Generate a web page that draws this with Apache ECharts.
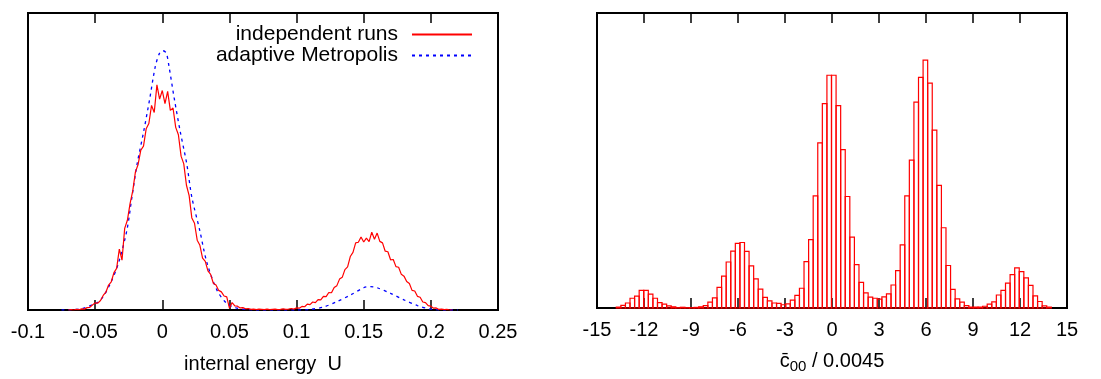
<!DOCTYPE html>
<html>
<head>
<meta charset="utf-8">
<script src="https://cdn.jsdelivr.net/npm/echarts@6/dist/echarts.min.js"></script>
<style>
html,body{margin:0;padding:0;background:#fff;}
#chart{width:1101px;height:379px;}
</style>
</head>
<body>
<div id="chart"></div>
<script>
// ---------- Left panel data ----------
const leftTicks = { min: -0.1, max: 0.25, interval: 0.05 };
// independent runs (red, noisy), sampled on a regular grid of U
const redStart = -0.07;
const redStep = 0.002;
const redP = [
  0, 0.1, 0, 0.2, 0.1, 0.4, 0.3, 0.8, 0.9, 1.7,
  2.4, 2.3, 3.2, 4.9, 6.0, 8.4, 9.5, 12.6, 14.0, 20.5,
  16.8, 27.5, 30.2, 35.8, 40.1, 46.5, 49.0, 53.8, 55.2, 61.0,
  62.8, 68.9, 66.5, 75.8, 71.0, 73.9, 69.5, 73.6, 67.2, 68.0,
  61.5, 59.0, 51.8, 49.2, 42.0, 38.5, 31.0, 29.2, 23.5, 21.8,
  17.5, 16.4, 13.2, 12.0, 9.0, 8.4, 6.6, 6.1, 4.7, 4.4,
  0.6, 2.5, 1.4, 1.3, 0.7, 0.8, 0.4, 0.5, 0.2, 0.3,
  0.1, 0.3, 0.2, 0.1, 0.3, 0.1, 0.2, 0.3, 0.1, 0.2,
  0.4, 0.2, 0.3, 0.5, 0.3, 0.7, 0.6, 1.2, 1.1, 2.0,
  1.8, 2.7, 2.5, 3.5, 3.4, 4.6, 4.5, 5.9, 5.8, 7.6,
  8.2, 10.4, 11.0, 13.6, 14.5, 18.0, 19.4, 22.6, 22.8, 24.6,
  22.9, 24.2, 23.0, 26.2, 23.8, 25.9, 23.1, 22.6, 19.8, 19.6,
  16.9, 17.0, 14.6, 14.4, 12.0, 11.4, 9.6, 8.9, 6.6, 6.4,
  4.6, 4.3, 2.7, 2.5, 1.5, 1.3, 0.6, 0.7, 0.2, 0.3,
  0.1, 0.2, 0, 0
];
// adaptive Metropolis (blue dashed, smooth)
const blueU = [-0.075, -0.065, -0.0585, -0.052, -0.046, -0.0387, -0.0325, -0.0263, -0.0226, -0.0188,
  -0.0139, -0.0094, -0.0052, -0.002, 0.0005, 0.003, 0.005, 0.009, 0.0134, 0.0183,
  0.022, 0.0278, 0.0332, 0.0407, 0.048, 0.055, 0.062, 0.07, 0.1, 0.11,
  0.12, 0.13, 0.14, 0.15, 0.155, 0.16, 0.17, 0.18, 0.19, 0.2, 0.21, 0.22];
const blueP = [0, 0.2, 0.6, 1.8, 3.3, 8.9, 16, 27, 38, 49,
  60, 71, 82, 86.5, 87.3, 86.5, 82, 71, 60, 49,
  38, 27, 16, 6.7, 2.2, 0.7, 0.2, 0, 0, 0.2,
  1.0, 2.8, 5.0, 7.5, 7.9, 7.5, 5.6, 3.4, 1.5, 0.3, 0, 0];

// ---------- Right panel data ----------
const rightTicks = { min: -15, max: 15, interval: 3 };
const histStart = -13.77;
const binWidth = 0.2923;
const histCounts = [
  0.3, 0.9, 1.7, 3.3, 4.0, 6.0, 6.0, 4.7, 3.3, 1.8,
  1.3, 0.7, 0.4, 0.1, 0.25, 0.1, 0.1, 0.2,
  0.4, 0.8, 2.0, 3.4, 7.0, 10.8, 15.6, 19.3, 21.9, 22.2,
  19.2, 14.3, 9.9, 6.4, 3.6, 2.4, 1.7, 1.6, 1.1, 1.4,
  2.7, 4.3, 6.7, 15.7, 23.2, 38.0, 56.0, 69.3, 78.9, 78.9,
  68.6, 53.7, 37.8, 24.0, 14.7, 8.7, 5.1, 3.7, 3.3, 3.0,
  3.8, 4.8, 7.8, 12.7, 21.4, 38.0, 50.1, 69.8, 78.2, 84.0,
  76.2, 60.3, 41.6, 27.2, 14.4, 6.3, 3.1, 2.0, 0.8, 0.3,
  0.3, 0.3, 0.6, 1.3, 2.1, 4.4, 6.0, 8.4, 11.3, 13.6,
  12.3, 10.2, 7.7, 4.1, 2.2, 0.7, 0.3
];

const seriesNames = ['independent runs', 'adaptive Metropolis'];
const leftTitle = 'internal energy  U';

// ---------- Build options ----------
const FONT = 'Liberation Sans, Arial, sans-serif';
const redData = redP.map((v, i) => [redStart + i * redStep, v]);
const blueData = blueU.map((u, i) => [u, blueP[i]]);
const histData = histCounts.map((c, i) => [histStart + i * binWidth, histStart + (i + 1) * binWidth, c]);

function bottomAxis(gridIndex, t, extra) {
  return Object.assign({
    type: 'value', gridIndex: gridIndex, position: 'bottom',
    min: t.min, max: t.max, interval: t.interval,
    axisLine: { show: true, onZero: false, lineStyle: { color: '#000', width: 2 } },
    axisTick: { show: true, inside: true, length: 10, lineStyle: { color: '#000', width: 1.5 } },
    axisLabel: { show: true, color: '#000', fontFamily: FONT, fontSize: 20, margin: 12, showMinLabel: true, showMaxLabel: true },
    splitLine: { show: false }
  }, extra || {});
}
function topAxis(gridIndex, t) {
  return {
    type: 'value', gridIndex: gridIndex, position: 'top',
    min: t.min, max: t.max, interval: t.interval,
    axisLine: { show: true, onZero: false, lineStyle: { color: '#000', width: 2 } },
    axisTick: { show: true, inside: true, length: 10, lineStyle: { color: '#000', width: 1.5 } },
    axisLabel: { show: false },
    splitLine: { show: false }
  };
}
function yAxis(gridIndex) {
  return {
    type: 'value', gridIndex: gridIndex, min: 0, max: 100,
    axisLine: { show: false }, axisTick: { show: false }, axisLabel: { show: false }, splitLine: { show: false }
  };
}

const option = {
  animation: false,
  backgroundColor: '#fff',
  grid: [
    { left: 28, top: 13, width: 470, height: 300, show: true, borderColor: '#000', borderWidth: 2, backgroundColor: 'transparent' },
    { left: 597, top: 13, width: 470, height: 300, show: true, borderColor: '#000', borderWidth: 2, backgroundColor: 'transparent' }
  ],
  legend: {
    data: seriesNames,
    orient: 'vertical',
    right: 628,
    top: 24,
    padding: 0,
    align: 'right',
    itemWidth: 60,
    itemHeight: 14,
    itemGap: 0,
    itemStyle: { opacity: 0 },
    textStyle: { color: '#000', fontFamily: FONT, fontSize: 21, padding: [0, 9, 0, 0] }
  },
  xAxis: [
    bottomAxis(0, leftTicks, {
      name: leftTitle, nameLocation: 'middle', nameGap: 44,
      nameTextStyle: { color: '#000', fontFamily: FONT, fontSize: 20 }
    }),
    topAxis(0, leftTicks),
    bottomAxis(1, rightTicks, {
      name: '{c|c\u0304}{sub|00}{n| / 0.0045}', nameLocation: 'middle', nameGap: 40,
      nameTextStyle: {
        color: '#000', fontFamily: FONT, fontSize: 20, lineHeight: 26,
        rich: {
          c: { fontFamily: FONT, fontSize: 20, color: '#000', lineHeight: 26 },
          sub: { fontFamily: FONT, fontSize: 15, color: '#000', lineHeight: 13, verticalAlign: 'bottom' },
          n: { fontFamily: FONT, fontSize: 20, color: '#000', lineHeight: 26 }
        }
      }
    }),
    topAxis(1, rightTicks)
  ],
  yAxis: [yAxis(0), yAxis(1)],
  series: [
    {
      name: seriesNames[0], type: 'line', xAxisIndex: 0, yAxisIndex: 0,
      data: redData, showSymbol: false, symbol: 'none',
      lineStyle: { color: '#ff0000', width: 1.2 }, itemStyle: { color: '#ff0000' }, z: 3
    },
    {
      name: seriesNames[1], type: 'line', xAxisIndex: 0, yAxisIndex: 0,
      data: blueData, showSymbol: false, symbol: 'none', smooth: 0.3,
      lineStyle: { color: '#0000ff', width: 1.3, type: [3, 4] }, itemStyle: { color: '#0000ff' }, z: 2
    },
    {
      type: 'custom', xAxisIndex: 2, yAxisIndex: 1,
      data: histData,
      encode: { x: [0, 1], y: 2 },
      renderItem: function (params, api) {
        const p0 = api.coord([api.value(0), api.value(2)]);
        const p1 = api.coord([api.value(1), 0]);
        return {
          type: 'rect',
          shape: { x: p0[0], y: p0[1], width: p1[0] - p0[0], height: p1[1] - p0[1] },
          style: { fill: null, stroke: '#ff0000', lineWidth: 1.2 }
        };
      }
    }
  ]
};

const chart = echarts.init(document.getElementById('chart'), null, { renderer: 'canvas' });
chart.setOption(option);
</script>
</body>
</html>
